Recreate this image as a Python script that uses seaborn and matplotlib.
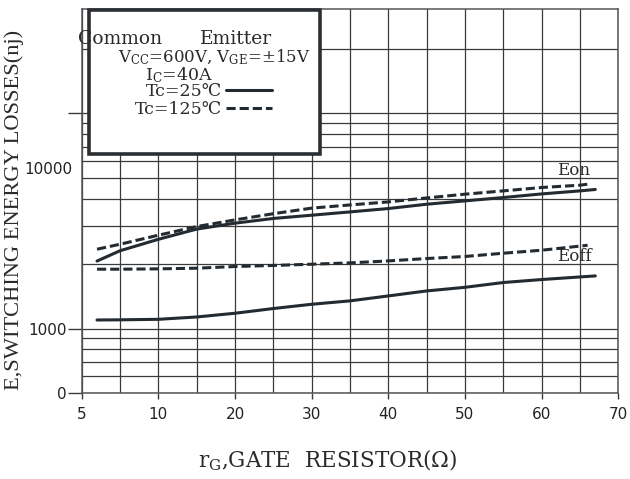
import numpy as np
import pandas as pd
import matplotlib
matplotlib.use("Agg")
import matplotlib.pyplot as plt
from matplotlib.ticker import FixedLocator, NullFormatter
from matplotlib.patches import Rectangle
import matplotlib.transforms as mtransforms
import seaborn as sns

# ---- switching energy vs. gate resistor ----
rg_eon_25 = [2, 5, 10, 15, 20, 25, 30, 35, 40, 45, 50, 55, 60, 65, 67]
eon_25 = [2060, 2300, 2600, 2900, 3090, 3250, 3365, 3486, 3614, 3785, 3923, 4066, 4226, 4366, 4432]

rg_eon_125 = [2, 5, 10, 15, 20, 25, 30, 35, 40, 45, 50, 55, 60, 65, 66]
eon_125 = [2338, 2466, 2716, 2980, 3200, 3420, 3630, 3756, 3880, 4048, 4214, 4366, 4527, 4640, 4689]

rg_eoff_25 = [2, 5, 10, 15, 20, 25, 30, 35, 40, 45, 50, 55, 60, 67]
eoff_25 = [1096, 1098, 1104, 1132, 1178, 1239, 1297, 1345, 1418, 1496, 1555, 1637, 1690, 1757]

rg_eoff_125 = [2, 5, 10, 15, 20, 25, 30, 35, 40, 45, 50, 55, 60, 66]
eoff_125 = [1888, 1888, 1895, 1908, 1943, 1965, 1991, 2020, 2063, 2116, 2163, 2240, 2313, 2439]

x_ticks = [0, 10, 20, 30, 40, 50, 60, 70]
x_tick_labels = ["5", "10", "20", "30", "40", "50", "60", "70"]
y_ticks = [500, 1000, 10000]
y_tick_labels = ["0", "1000", ""]
y_minor_grid = [600, 700, 800, 900, 2000, 3000, 4000, 5000, 6000, 7000, 8000, 9000, 20000]
y_label_10k = ("10000", 5500)

curve_labels = [("Eon", 64.2, 5450), ("Eoff", 64.3, 2158)]
legend_labels = ["Tc=25\u2103", "Tc=125\u2103"]

sns.set_theme(style="white")
plt.rcParams["font.family"] = ["DejaVu Serif", "Liberation Serif"]
plt.rcParams["mathtext.fontset"] = "dejavuserif"

ink = "#232a30"
grid_c = "#3a3a3a"
txt_c = "#2a2a2a"

frames = []
for name, tc, xs, ys in [("Eon", 25, rg_eon_25, eon_25),
                         ("Eon", 125, rg_eon_125, eon_125),
                         ("Eoff", 25, rg_eoff_25, eoff_25),
                         ("Eoff", 125, rg_eoff_125, eoff_125)]:
    frames.append(pd.DataFrame({"rG": xs, "E": ys, "curve": name, "Tc": tc}))
df = pd.concat(frames, ignore_index=True)

fig = plt.figure(figsize=(6.3, 4.79), dpi=100)
ax = fig.add_axes([81.7 / 630, 1 - 393.3 / 479, 536.6 / 630, 384 / 479])

handles = {}
for (name, tc), sub in df.groupby(["curve", "Tc"], sort=False):
    sns.lineplot(data=sub, x="rG", y="E", ax=ax, color=ink, lw=2.2,
                 estimator=None, sort=True, zorder=4)
    line = ax.get_lines()[-1]
    if tc == 125:
        line.set_dashes((3.0, 1.3))
    handles.setdefault(tc, line)

ax.set_yscale("log")
ax.set_xlim(0, 70)
ax.set_ylim(500, 30500)

# grid: every 5 Ω vertically, log steps horizontally
ax.xaxis.set_major_locator(FixedLocator(x_ticks))
ax.set_xticklabels(x_tick_labels)
ax.xaxis.set_minor_locator(FixedLocator(list(range(5, 70, 10))))
ax.yaxis.set_major_locator(FixedLocator(y_ticks))
ax.set_yticklabels(y_tick_labels)
ax.yaxis.set_minor_locator(FixedLocator(y_minor_grid))
ax.yaxis.set_minor_formatter(NullFormatter())
ax.grid(True, which="both", color=grid_c, lw=0.9, zorder=1)
ax.set_axisbelow(True)

ax.tick_params(axis="y", which="major", length=10, width=1, color=grid_c,
               direction="out", pad=1, labelsize=11, labelcolor="#222222",
               labelfontfamily="DejaVu Sans", left=True)
ax.tick_params(axis="x", which="major", length=4, width=1, color=grid_c,
               direction="out", pad=6, labelsize=11, labelcolor="#222222",
               labelfontfamily="DejaVu Sans", bottom=True)
ax.tick_params(which="minor", length=0)

for s in ax.spines.values():
    s.set_color("#555555")
    s.set_linewidth(1.1)

trans = mtransforms.blended_transform_factory(ax.transAxes, ax.transData)
ax.text(-0.018, y_label_10k[1], y_label_10k[0], transform=trans, ha="right",
        va="center", fontsize=11, color="#222222", family="DejaVu Sans")

ax.set_ylabel("E,SWITCHING ENERGY LOSSES(nj)", fontsize=16.2, color=txt_c,
              family="Liberation Serif", labelpad=0)
ax.yaxis.set_label_coords(-0.108, 0.477)
ax.set_xlabel("r$_\\mathrm{G}$,GATE  RESISTOR(\u03a9)", fontsize=15.5,
              color=txt_c)
ax.xaxis.set_label_coords(0.458, -0.143)

for txt, xv, yv in curve_labels:
    ax.text(xv, yv, txt, ha="center", va="center", fontsize=12,
            color=txt_c, zorder=5)

# condition box
ax.add_patch(Rectangle((0.0145, 0.622), 0.4305, 0.375, transform=ax.transAxes,
                       facecolor="white", edgecolor="#2b2f33", lw=2.6,
                       zorder=3, clip_on=False))
box_text = dict(transform=ax.transAxes, fontsize=13.5, color=txt_c,
                va="center", ha="left", zorder=6)
ax.text(-0.007, 0.922, "Common", **box_text)
ax.text(0.2205, 0.922, "Emitter", **box_text)
box_text["fontsize"] = 12
ax.text(0.0677, 0.876, "V$_\\mathrm{CC}$=600V, V$_\\mathrm{GE}$=\u00b115V",
        **box_text)
box_text["fontsize"] = 12.5
ax.text(0.118, 0.8295, "I$_\\mathrm{C}$=40A", **box_text)

leg = ax.legend([handles[25], handles[125]], legend_labels, loc="upper left",
                bbox_to_anchor=(0.099, 0.808), frameon=False, markerfirst=False,
                fontsize=12.5, handlelength=2.65, handletextpad=0.25,
                labelspacing=0.08, borderpad=0, borderaxespad=0)
leg.set_zorder(7)
for t in leg.get_texts():
    t.set_color(txt_c)

fig.savefig("out.png", dpi=100)
